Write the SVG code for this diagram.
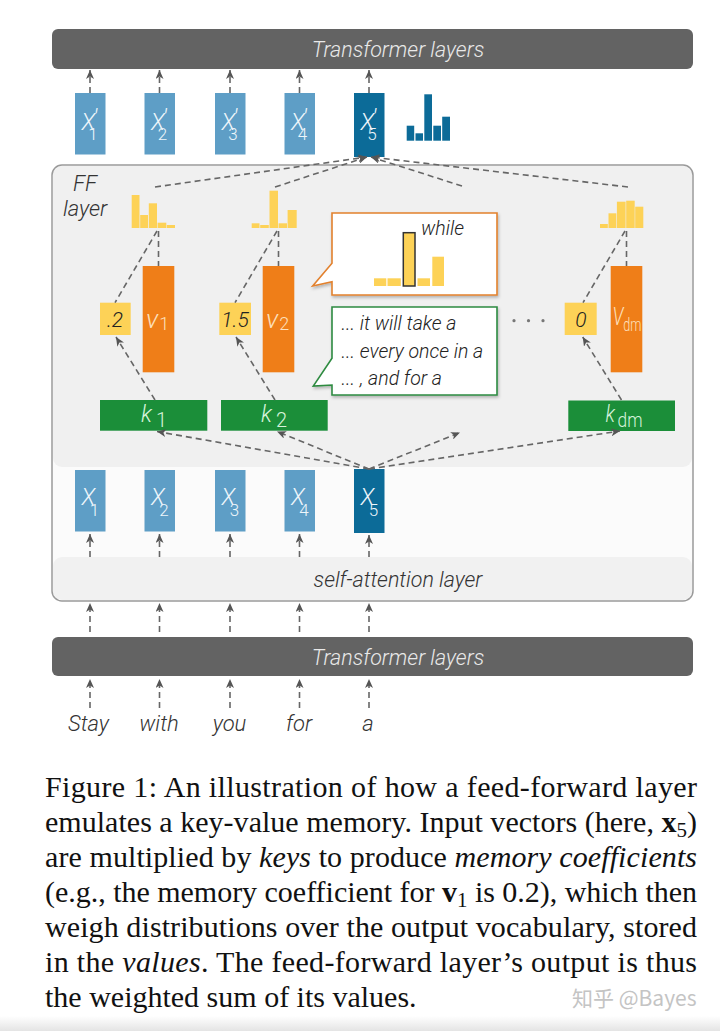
<svg xmlns="http://www.w3.org/2000/svg" width="720" height="1031" viewBox="0 0 720 1031">
<defs>
<style>
.lbl{font-family:Roboto,"Liberation Sans",sans-serif;font-style:italic;font-weight:300;}
.bar{fill:#636363;}
.bartxt{fill:#e9e9e9;font-size:21.5px;text-anchor:middle;}
.xb{fill:#5e9ec6;}
.xd{fill:#0c6b98;}
.xt{fill:#eef6fb;font-size:23px;}
.xs{font-size:17px;font-style:normal;}
.pr{font-size:24px;}
.yel{fill:#fdd257;}
.org{fill:#ef7e18;}
.grn{fill:#1b8e39;}
.blu{fill:#0c6b98;}
.dash{stroke:#666;stroke-width:1.6;stroke-dasharray:6 4;fill:none;}
.arr{marker-end:url(#ah);}
.word{fill:#333;font-size:22px;text-anchor:middle;}
.coef{fill:#222;font-size:21px;text-anchor:middle;}
.vt{fill:#fde0bd;font-size:26px;}
.vs{font-size:18px;font-style:normal;}
.kt{fill:#d6f3da;font-size:23px;}
.ks{font-size:20px;font-style:normal;}
.call{fill:#222;font-size:19.5px;}
.cap{font-family:"Liberation Serif","Times New Roman",serif;font-size:30px;fill:#111;}
</style>
<marker id="ah" markerUnits="userSpaceOnUse" markerWidth="9" markerHeight="8" refX="9" refY="4" orient="auto" viewBox="0 0 9 8"><path d="M0,0 L9,4 L0,8 L2.5,4 Z" fill="#555"/></marker>
<linearGradient id="botg" x1="0" y1="0" x2="0" y2="1"><stop offset="0" stop-color="#ffffff"/><stop offset="1" stop-color="#e4e4e4"/></linearGradient>
<filter id="sh" x="-10%" y="-10%" width="130%" height="130%"><feDropShadow dx="1" dy="2" stdDeviation="1.5" flood-color="#000" flood-opacity="0.25"/></filter>
</defs>
<rect width="720" height="1031" fill="#ffffff"/>
<rect x="0" y="1016" width="720" height="15" fill="url(#botg)"/>

<!-- FF / attention container -->
<g id="block">
<rect x="52" y="165" width="641" height="436" rx="10" fill="#fbfbfb"/>
<rect x="53" y="166" width="639" height="301" rx="9" fill="#f0f0f0"/>
<rect x="53" y="557" width="639" height="43" rx="9" fill="#f1f1f1"/>
<rect x="52" y="165" width="641" height="436" rx="10" fill="none" stroke="#9a9a9a" stroke-width="1.5"/>
<text class="lbl" x="73" y="191" font-size="22" fill="#333">FF</text>
<text class="lbl" x="63" y="216" font-size="22" fill="#333">layer</text>
<text class="lbl" x="398" y="587" font-size="21.5" fill="#333" text-anchor="middle">self-attention layer</text>
</g>

<g id="top-bar">
<rect class="bar" x="52" y="29" width="641" height="40" rx="6"/>
<text class="lbl bartxt" x="398" y="57">Transformer layers</text>
</g>
<g id="bottom-bar">
<rect class="bar" x="52" y="637" width="641" height="39" rx="6"/>
<text class="lbl bartxt" x="398" y="665">Transformer layers</text>
</g>

<!-- output vectors -->
<g id="xp1"><rect class="xb" x="75" y="93" width="30.5" height="61.5"/><text class="lbl xt" x="81.5" y="130">X<tspan class="pr" dx="-2" dy="-4">′</tspan><tspan class="xs" dx="-9" dy="14">1</tspan></text></g>
<g id="xp2"><rect class="xb" x="144.5" y="93" width="30.5" height="61.5"/><text class="lbl xt" x="151" y="130">X<tspan class="pr" dx="-2" dy="-4">′</tspan><tspan class="xs" dx="-9" dy="14">2</tspan></text></g>
<g id="xp3"><rect class="xb" x="215" y="93" width="30.5" height="61.5"/><text class="lbl xt" x="221.5" y="130">X<tspan class="pr" dx="-2" dy="-4">′</tspan><tspan class="xs" dx="-9" dy="14">3</tspan></text></g>
<g id="xp4"><rect class="xb" x="284.5" y="93" width="30.5" height="61.5"/><text class="lbl xt" x="291" y="130">X<tspan class="pr" dx="-2" dy="-4">′</tspan><tspan class="xs" dx="-9" dy="14">4</tspan></text></g>
<g id="xp5"><rect class="xd" x="354" y="93" width="30.5" height="64"/><text class="lbl xt" x="360.5" y="130">X<tspan class="pr" dx="-2" dy="-4">′</tspan><tspan class="xs" dx="-9" dy="14">5</tspan></text></g>
<g id="out-hist">
<rect class="blu" x="406.7" y="125.7" width="7.5" height="15"/>
<rect class="blu" x="415.5" y="133.3" width="7.5" height="7.4"/>
<rect class="blu" x="424.3" y="94.3" width="7.7" height="46.4"/>
<rect class="blu" x="433.3" y="125.7" width="7.7" height="15"/>
<rect class="blu" x="442.2" y="116.7" width="7.8" height="24"/>
</g>

<!-- input vectors -->
<g id="x1"><rect class="xb" x="75" y="470" width="30.5" height="61.5"/><text class="lbl xt" x="81.5" y="505">X<tspan class="xs" dx="-5.5" dy="11">1</tspan></text></g>
<g id="x2"><rect class="xb" x="144.5" y="470" width="30.5" height="61.5"/><text class="lbl xt" x="151" y="505">X<tspan class="xs" dx="-5.5" dy="11">2</tspan></text></g>
<g id="x3"><rect class="xb" x="215" y="470" width="30.5" height="61.5"/><text class="lbl xt" x="221.5" y="505">X<tspan class="xs" dx="-5.5" dy="11">3</tspan></text></g>
<g id="x4"><rect class="xb" x="284.5" y="470" width="30.5" height="61.5"/><text class="lbl xt" x="291" y="505">X<tspan class="xs" dx="-5.5" dy="11">4</tspan></text></g>
<g id="x5"><rect class="xd" x="354" y="469" width="30.5" height="64"/><text class="lbl xt" x="360.5" y="505">X<tspan class="xs" dx="-5.5" dy="11">5</tspan></text></g>

<!-- memory 1 -->
<g id="hist1">
<rect class="yel" x="131.7" y="195" width="7.8" height="33"/>
<rect class="yel" x="140.2" y="215" width="7.8" height="13"/>
<rect class="yel" x="148.8" y="203.3" width="8.2" height="24.7"/>
<rect class="yel" x="157.6" y="222.7" width="8.7" height="5.3"/>
<rect class="yel" x="166.8" y="225" width="8.2" height="3"/>
</g>
<g id="c1"><rect class="yel" x="100" y="302.7" width="30.7" height="32.3"/><text class="lbl coef" x="115" y="326.5">.2</text></g>
<g id="v1"><rect class="org" x="142.7" y="266" width="31.6" height="106.3"/><text class="lbl vt" x="146" y="328">v<tspan class="vs" dx="1" dy="2">1</tspan></text></g>
<g id="k1"><rect class="grn" x="100" y="400" width="107.3" height="30.7"/><text class="lbl kt" x="141" y="422">k<tspan class="ks" dx="4" dy="5">1</tspan></text></g>

<!-- memory 2 -->
<g id="hist2">
<rect class="yel" x="251.7" y="223.3" width="7.8" height="4.7"/>
<rect class="yel" x="260.2" y="225" width="8.6" height="3"/>
<rect class="yel" x="269.5" y="190.7" width="8.5" height="37.3"/>
<rect class="yel" x="278.6" y="223.3" width="8.4" height="4.7"/>
<rect class="yel" x="287.6" y="210" width="9.1" height="18"/>
</g>
<g id="c2"><rect class="yel" x="219.3" y="302.7" width="31.7" height="32.3"/><text class="lbl coef" x="235" y="326.5">1.5</text></g>
<g id="v2"><rect class="org" x="262.7" y="266" width="31.6" height="106.3"/><text class="lbl vt" x="266" y="328">v<tspan class="vs" dx="1" dy="2">2</tspan></text></g>
<g id="k2"><rect class="grn" x="221" y="400" width="106.7" height="30.7"/><text class="lbl kt" x="261" y="422">k<tspan class="ks" dx="4" dy="5">2</tspan></text></g>

<!-- memory dm -->
<g id="histdm">
<rect class="yel" x="600" y="224" width="7.8" height="4"/>
<rect class="yel" x="608.5" y="213.3" width="7.8" height="14.7"/>
<rect class="yel" x="616.9" y="201.7" width="8.7" height="26.3"/>
<rect class="yel" x="626.2" y="200.7" width="8.5" height="27.3"/>
<rect class="yel" x="635.2" y="206.7" width="8.1" height="21.3"/>
</g>
<g id="cdm"><rect class="yel" x="564.7" y="302.7" width="32" height="32.3"/><text class="lbl coef" x="581" y="326.5">0</text></g>
<g id="vdm"><rect class="org" x="610.7" y="266" width="31.6" height="106.3"/><text class="lbl vt" x="612.5" y="325" font-size="22" textLength="29" lengthAdjust="spacingAndGlyphs">V<tspan class="vs" font-size="16" dy="6">dm</tspan></text></g>
<g id="kdm"><rect class="grn" x="568.3" y="400.5" width="106.7" height="30.5"/><text class="lbl kt" x="605.5" y="422" textLength="37" lengthAdjust="spacingAndGlyphs">k<tspan class="ks" dx="3" dy="5">dm</tspan></text></g>

<g id="ellipsis" fill="#777"><circle cx="514" cy="320.7" r="1.6"/><circle cx="528.5" cy="320.7" r="1.6"/><circle cx="543" cy="320.7" r="1.6"/></g>

<!-- callouts -->
<g id="callout-value">
<path d="M332,213 H497 V295 H332 V281.7 L312.7,286 L332,263.3 Z" fill="#ffffff" stroke="#e2812e" stroke-width="1.6" filter="url(#sh)"/>
<text class="lbl call" x="421" y="235" font-size="22">while</text>
<rect class="yel" x="374" y="278.3" width="12.3" height="7.7"/>
<rect class="yel" x="387.5" y="278.3" width="13.3" height="7.7"/>
<rect class="yel" x="403.3" y="232.7" width="11.7" height="53.3" stroke="#333" stroke-width="1.5"/>
<rect class="yel" x="417.5" y="278.3" width="12.5" height="7.7"/>
<rect class="yel" x="432.3" y="256.7" width="11.7" height="29.3"/>
</g>
<g id="callout-key">
<path d="M332,307 H497 V395 H332 V385 L313.3,386 L332,358.3 Z" fill="#ffffff" stroke="#2e8b41" stroke-width="1.6" filter="url(#sh)"/>
<text class="lbl call" x="341.5" y="330">... it will take a</text>
<text class="lbl call" x="341.5" y="358">... every once in a</text>
<text class="lbl call" x="341.5" y="385">... , and for a</text>
</g>

<!-- connectors -->
<g id="connectors">
<g class="dash arr">
<line x1="90" y1="93" x2="90" y2="70"/>
<line x1="159.5" y1="93" x2="159.5" y2="70"/>
<line x1="230" y1="93" x2="230" y2="70"/>
<line x1="299.5" y1="93" x2="299.5" y2="70"/>
<line x1="369" y1="93" x2="369" y2="70"/>
<line x1="155" y1="187" x2="367" y2="157"/>
<line x1="275" y1="187" x2="367" y2="157"/>
<line x1="462" y1="186" x2="371" y2="157"/>
<line x1="628" y1="187" x2="371" y2="157"/>
<line x1="369" y1="469" x2="157" y2="431.5"/>
<line x1="369" y1="469" x2="277" y2="431.5"/>
<line x1="369" y1="469" x2="460" y2="432.5"/>
<line x1="369" y1="469" x2="620" y2="431"/>
<line x1="155" y1="400" x2="116" y2="337"/>
<line x1="275" y1="400" x2="236" y2="337"/>
<line x1="621.5" y1="400" x2="582.7" y2="337"/>
<line x1="90" y1="557" x2="90" y2="534"/>
<line x1="159.5" y1="557" x2="159.5" y2="534"/>
<line x1="230" y1="557" x2="230" y2="534"/>
<line x1="299.5" y1="557" x2="299.5" y2="534"/>
<line x1="369" y1="557" x2="369" y2="535"/>
<line x1="90" y1="632" x2="90" y2="603"/>
<line x1="159.5" y1="632" x2="159.5" y2="603"/>
<line x1="230" y1="632" x2="230" y2="603"/>
<line x1="299.5" y1="632" x2="299.5" y2="603"/>
<line x1="369" y1="632" x2="369" y2="603"/>
<line x1="90" y1="708" x2="90" y2="679"/>
<line x1="159.5" y1="708" x2="159.5" y2="679"/>
<line x1="230" y1="708" x2="230" y2="679"/>
<line x1="299.5" y1="708" x2="299.5" y2="679"/>
<line x1="369" y1="708" x2="369" y2="679"/>
</g>
<g class="dash">
<line x1="157" y1="231" x2="115" y2="302.7"/>
<line x1="158.5" y1="231" x2="158.5" y2="266"/>
<line x1="277" y1="231" x2="235" y2="302.7"/>
<line x1="278.5" y1="231" x2="278.5" y2="266"/>
<line x1="625" y1="231" x2="583" y2="302.7"/>
<line x1="626.5" y1="231" x2="626.5" y2="266"/>
</g>
</g>

<!-- input words -->
<g id="words" class="lbl">
<text class="word" x="88.5" y="731">Stay</text>
<text class="word" x="159" y="731">with</text>
<text class="word" x="229.5" y="731">you</text>
<text class="word" x="299" y="731">for</text>
<text class="word" x="368" y="731">a</text>
</g>

<!-- caption -->
<g id="caption">
<text class="cap" x="45" y="797" textLength="652" lengthAdjust="spacing">Figure 1: An illustration of how a feed-forward layer</text>
<text class="cap" x="45" y="832" textLength="652" lengthAdjust="spacing">emulates a key-value memory. Input vectors (here, <tspan font-weight="bold">x</tspan><tspan font-size="21" dy="5">5</tspan><tspan dy="-5">)</tspan></text>
<text class="cap" x="45" y="867" textLength="652" lengthAdjust="spacing">are multiplied by <tspan font-style="italic">keys</tspan> to produce <tspan font-style="italic">memory coefficients</tspan></text>
<text class="cap" x="45" y="902" textLength="652" lengthAdjust="spacing">(e.g., the memory coefficient for <tspan font-weight="bold">v</tspan><tspan font-size="21" dy="5">1</tspan><tspan dy="-5"> is 0.2), which then</tspan></text>
<text class="cap" x="45" y="937" textLength="652" lengthAdjust="spacing">weigh distributions over the output vocabulary, stored</text>
<text class="cap" x="45" y="972" textLength="652" lengthAdjust="spacing">in the <tspan font-style="italic">values</tspan>. The feed-forward layer’s output is thus</text>
<text class="cap" x="45" y="1007">the weighted sum of its values.</text>
</g>
<text id="watermark" x="572" y="1006" font-family="'Noto Sans CJK SC','Noto Sans',sans-serif" font-size="21" fill="#c4c4c4">知乎 @Bayes</text>
</svg>
